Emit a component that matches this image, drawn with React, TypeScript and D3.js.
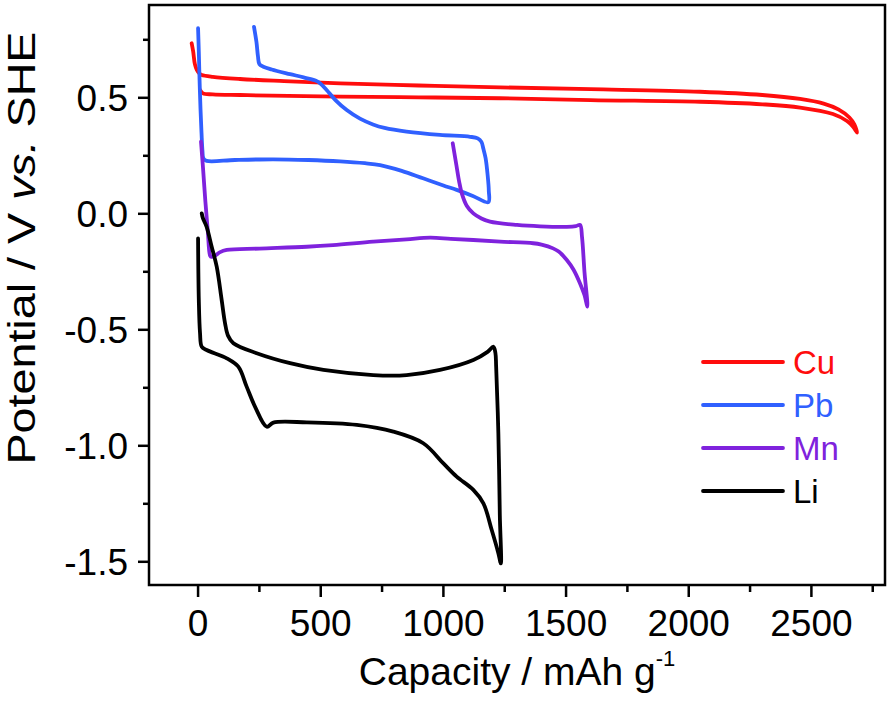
import React from "react";
import * as d3 from "d3";

type Pt = [number, number];

const seriesNames = ["Cu", "Pb", "Mn", "Li"];
const seriesColors = ["#ff0d0d", "#3060ff", "#7f22dd", "#000000"];

const cuCurve: Pt[] = [
  [-26, 0.735], [-20, 0.7], [-13, 0.645], [-5, 0.62], [5, 0.605], [15, 0.598], [60, 0.59], [171, 0.581],
  [350, 0.572], [579, 0.562], [900, 0.553], [1231, 0.545], [1600, 0.537], [2046, 0.526], [2300, 0.512],
  [2454, 0.495], [2550, 0.475], [2610, 0.45], [2655, 0.415], [2675, 0.385], [2686, 0.35],
  [2670, 0.375], [2645, 0.4], [2588, 0.43], [2454, 0.458], [2300, 0.472], [2046, 0.483], [1600, 0.49],
  [1231, 0.498], [900, 0.502], [579, 0.505], [300, 0.509], [171, 0.512], [60, 0.515], [20, 0.519], [8, 0.534],
];

const pbCurve: Pt[] = [
  [0, 0.8], [3, 0.7], [6, 0.58], [10, 0.45], [14, 0.35], [18, 0.27], [22, 0.238], [35, 0.228], [150, 0.232],
  [306, 0.235], [450, 0.232], [579, 0.226], [680, 0.218], [742, 0.21], [830, 0.185], [917, 0.153],
  [1000, 0.122], [1054, 0.103], [1120, 0.077], [1183, 0.05], [1185, 0.1], [1180, 0.17], [1172, 0.24],
  [1163, 0.28], [1155, 0.31], [1140, 0.325], [1109, 0.332], [986, 0.34], [850, 0.354], [760, 0.37],
  [713, 0.385], [660, 0.41], [606, 0.447], [560, 0.49], [524, 0.534], [500, 0.56], [484, 0.572],
  [430, 0.588], [375, 0.602], [300, 0.622], [266, 0.634], [250, 0.645], [244, 0.68], [238, 0.74], [228, 0.806],
];

const mnCurve: Pt[] = [
  [1038, 0.304], [1045, 0.26], [1054, 0.203], [1064, 0.14], [1075, 0.088], [1095, 0.035], [1122, 0.002],
  [1155, -0.02], [1190, -0.034], [1300, -0.048], [1394, -0.054], [1503, -0.056], [1540, -0.053],
  [1557, -0.048], [1565, -0.1], [1575, -0.25], [1587, -0.4], [1575, -0.35], [1557, -0.3], [1530, -0.24],
  [1503, -0.199], [1470, -0.163], [1447, -0.149], [1400, -0.133], [1366, -0.127], [1231, -0.12],
  [1122, -0.113], [1030, -0.108], [946, -0.103], [850, -0.11], [713, -0.12], [550, -0.135], [443, -0.142],
  [250, -0.15], [117, -0.156], [90, -0.165], [70, -0.18], [55, -0.186], [49, -0.18], [40, -0.08],
  [30, 0.05], [20, 0.2], [12, 0.311],
];

const liCurve: Pt[] = [
  [15, 0.002], [20, -0.02], [35, -0.056], [55, -0.14], [76, -0.228], [96, -0.37], [110, -0.472],
  [122, -0.525], [144, -0.558], [239, -0.601], [375, -0.644], [511, -0.673], [714, -0.695], [850, -0.695],
  [986, -0.673], [1122, -0.63], [1180, -0.595], [1204, -0.573], [1212, -0.6], [1215, -0.659],
  [1224, -0.946], [1230, -1.3], [1234, -1.507], [1224, -1.463], [1197, -1.363], [1163, -1.248],
  [1122, -1.19], [1054, -1.133], [1000, -1.076], [918, -0.989], [796, -0.939], [647, -0.91], [443, -0.899],
  [307, -0.9], [280, -0.918], [232, -0.831], [198, -0.745], [164, -0.659], [117, -0.623], [35, -0.587],
  [15, -0.573], [8, -0.514], [3, -0.37], [0, -0.106],
];

const curves: Pt[][] = [cuCurve, pbCurve, mnCurve, liCurve];

const xMajorTicks = [0, 500, 1000, 1500, 2000, 2500];
const xMinorTicks = [250, 750, 1250, 1750, 2250, 2750];
const yMajorTicks = [-1.5, -1.0, -0.5, 0.0, 0.5];
const yMinorTicks = [-1.25, -0.75, -0.25, 0.25, 0.75];

const xDomain: [number, number] = [-200, 2800];
const yDomain: [number, number] = [-1.6, 0.9];

const FONT = "'Liberation Sans', Arial, Helvetica, sans-serif";

export default function App() {
  const W = 890;
  const H = 708;
  const left = 149, right = 885, top = 5, bottom = 585;
  const x = d3.scaleLinear().domain(xDomain).range([left, right]);
  const y = d3.scaleLinear().domain(yDomain).range([bottom, top]);
  const line = d3
    .line<Pt>()
    .x((d) => x(d[0]))
    .y((d) => y(d[1]))
    .curve(d3.curveCatmullRom.alpha(0.5));

  const legendY0 = 362;
  const legendStep = 43;

  return (
    <svg
      width={W}
      height={H}
      viewBox={`0 0 ${W} ${H}`}
      style={{ position: "absolute", left: 0, top: 0, background: "#fff" }}
    >
      <rect x={0} y={0} width={W} height={H} fill="#fff" />
      <defs>
        <clipPath id="plotClip">
          <rect x={left} y={top} width={right - left} height={bottom - top} />
        </clipPath>
      </defs>

      <g clipPath="url(#plotClip)">
        {curves.map((c, i) => (
          <path
            key={seriesNames[i]}
            d={line(c) || ""}
            fill="none"
            stroke={seriesColors[i]}
            strokeWidth={3.8}
            strokeLinejoin="round"
            strokeLinecap="round"
          />
        ))}
      </g>

      {/* frame */}
      <rect x={left} y={top} width={right - left} height={bottom - top} fill="none" stroke="#000" strokeWidth={2.5} />

      {/* x ticks */}
      {xMajorTicks.map((t) => (
        <g key={"xM" + t}>
          <line x1={x(t)} x2={x(t)} y1={bottom} y2={bottom + 12} stroke="#000" strokeWidth={2.5} />
          <text x={x(t)} y={636} textAnchor="middle" fontFamily={FONT} fontSize={37} fill="#000">
            {t}
          </text>
        </g>
      ))}
      {xMinorTicks.map((t) => (
        <line key={"xm" + t} x1={x(t)} x2={x(t)} y1={bottom} y2={bottom + 7} stroke="#000" strokeWidth={2.5} />
      ))}

      {/* y ticks */}
      {yMajorTicks.map((t) => (
        <g key={"yM" + t}>
          <line x1={left - 11} x2={left} y1={y(t)} y2={y(t)} stroke="#000" strokeWidth={2.5} />
          <text x={128} y={y(t) + 13} textAnchor="end" fontFamily={FONT} fontSize={37} fill="#000">
            {t.toFixed(1)}
          </text>
        </g>
      ))}
      {yMinorTicks.map((t) => (
        <line key={"ym" + t} x1={left - 6} x2={left} y1={y(t)} y2={y(t)} stroke="#000" strokeWidth={2.5} />
      ))}

      {/* x title */}
      <text x={(left + right) / 2} y={685} textAnchor="middle" fontFamily={FONT} fontSize={39} fill="#000">
        Capacity / mAh g
        <tspan fontSize={22} dy={-19}>-1</tspan>
      </text>

      {/* y title */}
      <text
        transform={`translate(35, 248) rotate(-90)`}
        textAnchor="middle"
        fontFamily={FONT}
        fontSize={38}
        fill="#000"
        textLength={433}
        lengthAdjust="spacingAndGlyphs"
      >
        Potential / V <tspan fontStyle="italic">vs.</tspan> SHE
      </text>

      {/* legend */}
      {seriesNames.map((n, i) => (
        <g key={"lg" + n}>
          <line
            x1={703}
            x2={783}
            y1={legendY0 + i * legendStep}
            y2={legendY0 + i * legendStep}
            stroke={seriesColors[i]}
            strokeWidth={3.8}
            strokeLinecap="round"
          />
          <text x={793} y={legendY0 + i * legendStep + 12} fontFamily={FONT} fontSize={33} fill={seriesColors[i]}>
            {n}
          </text>
        </g>
      ))}
    </svg>
  );
}
